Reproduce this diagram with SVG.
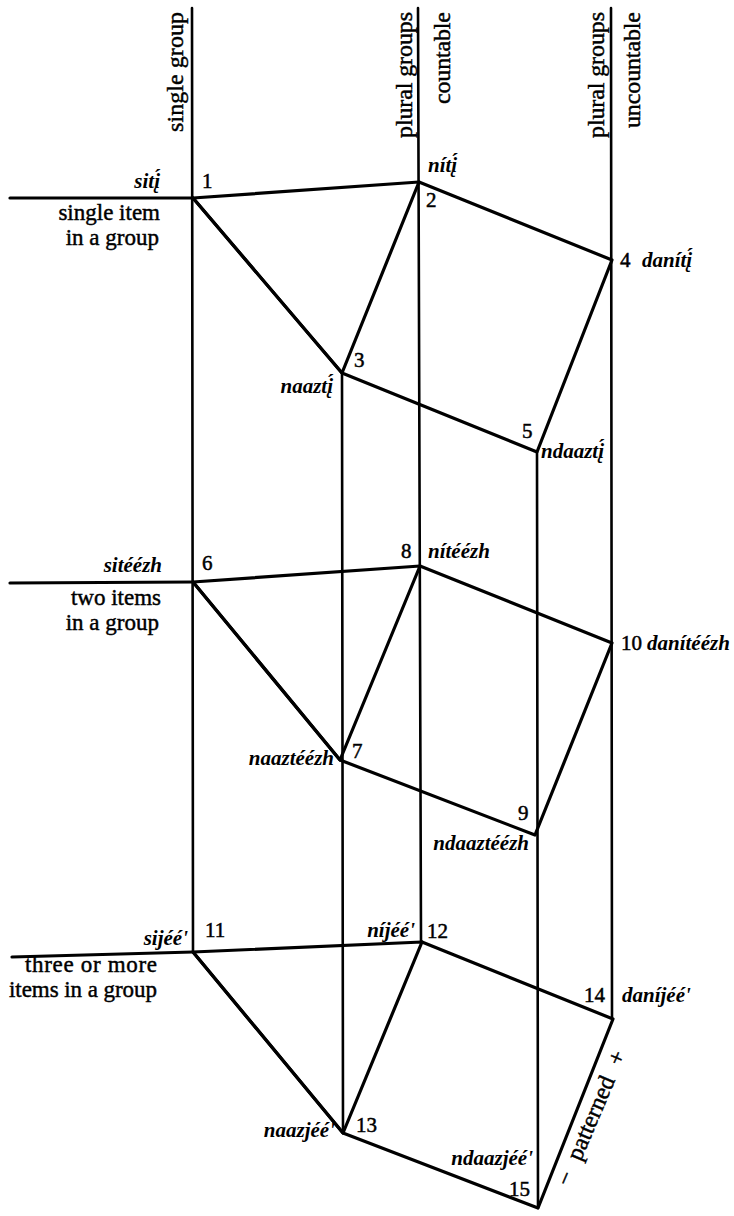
<svg xmlns="http://www.w3.org/2000/svg" width="734" height="1216" viewBox="0 0 734 1216">
<style>
.ax{stroke:#000;stroke-width:2.6;fill:none;stroke-linecap:round}
.ed{stroke:#000;stroke-width:3.2;fill:none;stroke-linecap:round;stroke-linejoin:round}
.hd{font-family:"Liberation Serif",serif;font-size:24px;fill:#000;stroke:#000;stroke-width:0.45}
.lb{font-family:"Liberation Serif",serif;font-size:23px;fill:#000;stroke:#000;stroke-width:0.45;text-anchor:end}
.it{font-family:"Liberation Serif",serif;font-size:21px;font-style:italic;font-weight:bold;fill:#000}
.nm{font-family:"Liberation Serif",serif;font-size:21px;fill:#000;stroke:#000;stroke-width:0.5}
.e{text-anchor:end}
</style>
<rect width="734" height="1216" fill="#fff"/>
<g id="connectors">
  <line class="ax" x1="192" y1="8" x2="193" y2="952"/>
  <line class="ax" x1="418" y1="8" x2="421" y2="942"/>
  <line class="ax" x1="611" y1="8" x2="612" y2="1019"/>
  <line class="ax" x1="342" y1="373" x2="343" y2="1133"/>
  <line class="ax" x1="537" y1="452" x2="538" y2="1208"/>
  <line class="ed" x1="10" y1="198" x2="193" y2="198"/>
  <line class="ed" x1="10" y1="583" x2="193" y2="582"/>
  <line class="ed" x1="12" y1="957" x2="193" y2="952"/>
  <path class="ed" d="M193 198 L419 182 L612 260 L537 452 L342 373 Z"/>
  <path class="ed" d="M193 198 L342 373 L419 182"/>
  <path class="ed" d="M193 582 L420 566 L612 643 L535 835 L340 760 Z"/>
  <path class="ed" d="M193 582 L340 760 L420 566"/>
  <path class="ed" d="M193 952 L422 942 L613 1019 L538 1208 L343 1133 Z"/>
  <path class="ed" d="M193 952 L343 1133 L422 942"/>
</g>
<g id="headers">
  <text class="hd e" transform="translate(183,12) rotate(-90)" textLength="120">single group</text>
  <text class="hd e" transform="translate(412,12) rotate(-90)" textLength="126">plural groups</text>
  <text class="hd e" transform="translate(450,12) rotate(-90)" textLength="92">countable</text>
  <text class="hd e" transform="translate(604,12) rotate(-90)" textLength="126">plural groups</text>
  <text class="hd e" transform="translate(640,12) rotate(-90)" textLength="116">uncountable</text>
</g>
<g id="row-labels">
  <text class="lb" x="160" y="220">single item</text>
  <text class="lb" x="159" y="245">in a group</text>
  <text class="lb" x="161" y="605">two items</text>
  <text class="lb" x="159" y="630">in a group</text>
  <text class="lb" x="157" y="972" textLength="132">three or more</text>
  <text class="lb" x="157" y="997" textLength="148">items in a group</text>
</g>
<g id="n1"><text class="nm" x="202" y="188">1</text><text class="it e" x="160" y="188">sitį́</text></g>
<g id="n2"><text class="nm" x="426" y="207">2</text><text class="it" x="428" y="172">nítį́</text></g>
<g id="n3"><text class="nm" x="354" y="367">3</text><text class="it e" x="333" y="393">naaztį́</text></g>
<g id="n4"><text class="nm" x="620" y="267">4</text><text class="it" x="642" y="267">danítį́</text></g>
<g id="n5"><text class="nm" x="522" y="438">5</text><text class="it" x="541" y="458">ndaaztį́</text></g>
<g id="n6"><text class="nm" x="202" y="570">6</text><text class="it e" x="162" y="572">sitéézh</text></g>
<g id="n7"><text class="nm" x="352" y="758">7</text><text class="it e" x="334" y="765">naaztéézh</text></g>
<g id="n8"><text class="nm" x="401" y="558">8</text><text class="it" x="428" y="558">nítéézh</text></g>
<g id="n9"><text class="nm" x="518" y="820">9</text><text class="it e" x="529" y="850">ndaaztéézh</text></g>
<g id="n10"><text class="nm" x="621" y="650">10</text><text class="it" x="647" y="650">danítéézh</text></g>
<g id="n11"><text class="nm" x="205" y="937">11</text><text class="it e" x="188" y="945">sijéé'</text></g>
<g id="n12"><text class="nm" x="427" y="938">12</text><text class="it e" x="415" y="937">níjéé'</text></g>
<g id="n13"><text class="nm" x="356" y="1132">13</text><text class="it e" x="335" y="1137">naazjéé'</text></g>
<g id="n14"><text class="nm" x="584" y="1002">14</text><text class="it" x="622" y="1002">daníjéé'</text></g>
<g id="n15"><text class="nm" x="509" y="1196">15</text><text class="it e" x="533" y="1165">ndaazjéé'</text></g>
<g id="patterned">
  <text class="hd" text-anchor="middle" transform="translate(598,1121) rotate(-67)"><tspan>− </tspan><tspan dx="8">patterned </tspan><tspan dx="8">+</tspan></text>
</g>
</svg>
